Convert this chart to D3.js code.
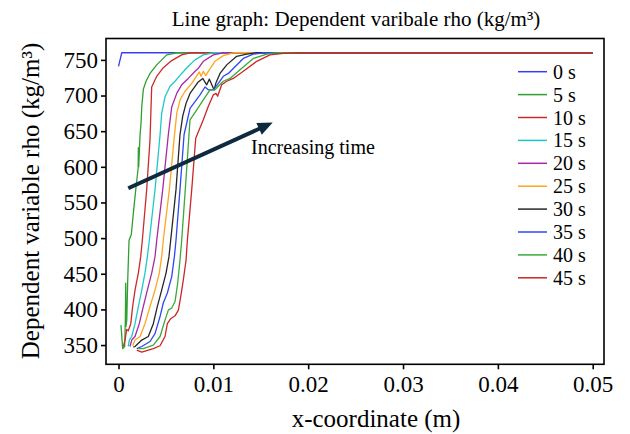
<!DOCTYPE html>
<html><head><meta charset="utf-8">
<script src="https://cdn.jsdelivr.net/npm/d3@7"></script>
<style>
html,body{margin:0;padding:0;background:#fff;}
svg{display:block;}
text{font-family:"Liberation Serif","Times New Roman",serif;fill:#000;}
</style></head>
<body><svg id="c" width="630" height="434"></svg>
<script>
// ---------- data ----------
const titleText = "Line graph: Dependent varibale rho (kg/m³)";
const xLabel = "x-coordinate (m)";
const yLabel = "Dependent variable rho (kg/m³)";
const xTicks = [0, 0.01, 0.02, 0.03, 0.04, 0.05];
const yTicks = [350, 400, 450, 500, 550, 600, 650, 700, 750];
const seriesNames = ["0 s","5 s","10 s","15 s","20 s","25 s","30 s","35 s","40 s","45 s"];
const seriesColors = ["#3a3ef0","#2fa02f","#cc2a2a","#1fc8c8","#a52aa5","#ffa51f","#262626","#2f47f0","#3aaa3a","#c82828"];

const s0 = [[0,741],[0.00034,760],[0.05,760]];
const s5 = [[0.00026,378],[0.00044,345],[0.00065,348],[0.00072,385],[0.00076,437],[0.00079,376],[0.00087,385],[0.00097,441],[0.00111,497],[0.00135,505],[0.00160,540],[0.00185,572],[0.00207,598],[0.00209,627],[0.00213,600],[0.00227,645],[0.00237,660],[0.00245,684],[0.00262,709],[0.00290,720],[0.00332,731],[0.00403,743],[0.00508,757],[0.00614,760],[0.05,760]];
const s10 = [[0.00051,348],[0.00069,357],[0.00086,372],[0.00103,370],[0.00129,380],[0.00149,404],[0.00174,427],[0.00209,451],[0.00234,474],[0.00251,497],[0.00297,568],[0.00332,638],[0.00343,684],[0.00350,712],[0.00403,727],[0.00472,739],[0.00561,749],[0.00666,757],[0.00754,760],[0.05,760]];
const s15 = [[0.00103,348],[0.00114,357],[0.00139,362],[0.00174,380],[0.00209,404],[0.00245,427],[0.00279,451],[0.00304,474],[0.00325,497],[0.00385,568],[0.00438,645],[0.00455,675],[0.00490,698],[0.00543,713],[0.00596,720],[0.00666,731],[0.00736,741],[0.00807,750],[0.00894,757],[0.01000,760],[0.05,760]];
const s20 = [[0.00121,348],[0.00139,357],[0.00174,362],[0.00219,380],[0.00261,404],[0.00304,427],[0.00350,451],[0.00385,474],[0.00403,497],[0.00466,568],[0.00525,645],[0.00561,684],[0.00614,703],[0.00666,715],[0.00736,724],[0.00807,734],[0.00841,738],[0.00894,748],[0.01000,757],[0.01105,760],[0.05,760]];
const s25 = [[0.00149,349],[0.00174,357],[0.00227,362],[0.00279,380],[0.00332,404],[0.00385,427],[0.00430,451],[0.00455,474],[0.00472,497],[0.00536,568],[0.00585,638],[0.00614,675],[0.00649,694],[0.00701,706],[0.00772,717],[0.00807,724],[0.00841,731],[0.00852,733],[0.00870,727],[0.00894,734],[0.00919,728],[0.00947,734],[0.01017,748],[0.01105,756],[0.01210,760],[0.05,760]];
const s30 = [[0.00156,347],[0.00174,348],[0.00245,357],[0.00314,362],[0.00367,380],[0.00409,404],[0.00455,427],[0.00501,451],[0.00532,474],[0.00550,497],[0.00606,568],[0.00648,645],[0.00677,671],[0.00712,689],[0.00754,703],[0.00841,719],[0.00888,724],[0.00930,715],[0.00958,723],[0.01007,708],[0.01028,718],[0.01070,731],[0.01141,743],[0.01246,755],[0.01352,758],[0.01450,760],[0.05,760]];
const s35 = [[0.00192,345],[0.00245,348],[0.00332,355],[0.00385,366],[0.00438,390],[0.00472,409],[0.00515,423],[0.00561,446],[0.00589,474],[0.00606,497],[0.00648,568],[0.00691,645],[0.00754,682],[0.00859,701],[0.00912,712],[0.00947,708],[0.01000,708],[0.01052,717],[0.01105,727],[0.01158,731],[0.01210,738],[0.01316,752],[0.01421,758],[0.01530,760],[0.05,760]];
const s40 = [[0.00209,345],[0.00261,345],[0.00367,350],[0.00438,362],[0.00490,385],[0.00525,399],[0.00561,402],[0.00596,411],[0.00624,437],[0.00648,469],[0.00666,497],[0.00704,568],[0.00743,645],[0.00754,666],[0.00825,680],[0.00894,694],[0.00965,708],[0.01017,708],[0.01052,713],[0.01105,720],[0.01176,724],[0.01281,736],[0.01421,752],[0.01563,758],[0.01680,760],[0.05,760]];
const s45 = [[0.00192,343],[0.00245,340],[0.00367,345],[0.00438,349],[0.00490,362],[0.00515,380],[0.00550,387],[0.00596,391],[0.00631,399],[0.00656,418],[0.00683,441],[0.00712,469],[0.00726,497],[0.00772,568],[0.00814,640],[0.00894,666],[0.00947,685],[0.01000,701],[0.01028,703],[0.01045,699],[0.01088,715],[0.01141,720],[0.01210,724],[0.01316,734],[0.01457,748],[0.01597,757],[0.01738,759],[0.01900,760],[0.05,760]];
const seriesData = [s0,s5,s10,s15,s20,s25,s30,s35,s40,s45];

const arrowStart = [0.00103, 570];
const arrowEnd = [0.01626, 662];
const arrowLabel = "Increasing time";
const arrowLabelPos = [0.01397, 618];

// ---------- layout ----------
const FONT = "'Liberation Serif','Times New Roman',serif";
const svg = d3.select("#c");
const plot = {left:106, right:604, top:38.5, bottom:364.3};
const x = d3.scaleLinear().domain([-0.00132, 0.05119]).range([plot.left, plot.right]);
const y = d3.scaleLinear().domain([323, 780]).range([plot.bottom, plot.top]);

// title
svg.append("text").attr("x", 356).attr("y", 26).attr("text-anchor","middle")
  .style("font-size","21px").text(titleText);

// lines
const line = d3.line().x(d=>x(d[0])).y(d=>y(d[1]));
svg.append("g").selectAll("path").data(seriesData).join("path")
  .attr("d", line).attr("fill","none")
  .attr("stroke",(d,i)=>seriesColors[i]).attr("stroke-width",1.3)
  .attr("stroke-linejoin","round");

// frame
svg.append("rect").attr("x",plot.left).attr("y",plot.top)
  .attr("width",plot.right-plot.left).attr("height",plot.bottom-plot.top)
  .attr("fill","none").attr("stroke","#000").attr("stroke-width",1.6);

// axes
const xAxis = d3.axisBottom(x).tickValues(xTicks).tickSize(5).tickSizeOuter(0).tickPadding(6)
  .tickFormat(d => d===0 ? "0" : d.toFixed(2));
const gx = svg.append("g").attr("transform",`translate(0,${plot.bottom})`).call(xAxis)
  .attr("font-family", FONT).attr("font-size", 23);
gx.select(".domain").remove();
gx.selectAll("line").attr("stroke","#000").attr("stroke-width",1.6);
gx.selectAll("text").style("font-size","23px").attr("fill","#000").style("font-family",FONT);

const yAxis = d3.axisLeft(y).tickValues(yTicks).tickSize(5).tickSizeOuter(0).tickPadding(3);
const gy = svg.append("g").attr("transform",`translate(${plot.left},0)`).call(yAxis)
  .attr("font-family", FONT).attr("font-size", 23);
gy.select(".domain").remove();
gy.selectAll("line").attr("stroke","#000").attr("stroke-width",1.6);
gy.selectAll("text").style("font-size","23px").attr("fill","#000").style("font-family",FONT);

// axis labels
svg.append("text").attr("x", 376).attr("y", 427).attr("text-anchor","middle")
  .style("font-size","25px").text(xLabel);
svg.append("text").attr("transform","translate(39,201) rotate(-90)").attr("text-anchor","middle")
  .style("font-size","25px").text(yLabel);

// legend
const legend = svg.append("g").selectAll("g").data(seriesNames).join("g")
  .attr("transform",(d,i)=>`translate(518,${71.7 + i*22.9})`);
legend.append("line").attr("x1",0).attr("x2",29).attr("y1",0).attr("y2",0)
  .attr("stroke",(d,i)=>seriesColors[i]).attr("stroke-width",1.5);
legend.append("text").attr("x",35).attr("y",7).style("font-size","20px").text(d=>d);

// arrow annotation
const ax0 = x(arrowStart[0]), ay0 = y(arrowStart[1]);
const ax1 = x(arrowEnd[0]), ay1 = y(arrowEnd[1]);
const ang = Math.atan2(ay1-ay0, ax1-ax0);
const headLen = 15, headW = 6.5;
const bx = ax1 - headLen*Math.cos(ang), by = ay1 - headLen*Math.sin(ang);
svg.append("line").attr("x1",ax0).attr("y1",ay0).attr("x2",bx+2*Math.cos(ang)).attr("y2",by+2*Math.sin(ang))
  .attr("stroke","#0f2a3e").attr("stroke-width",4);
svg.append("path").attr("d",
  `M${ax1},${ay1}L${bx - headW*Math.sin(ang)},${by + headW*Math.cos(ang)}L${bx + headW*Math.sin(ang)},${by - headW*Math.cos(ang)}Z`)
  .attr("fill","#0f2a3e");
svg.append("text").attr("x", x(arrowLabelPos[0])).attr("y", y(arrowLabelPos[1]))
  .style("font-size","20px").text(arrowLabel);
</script></body></html>
